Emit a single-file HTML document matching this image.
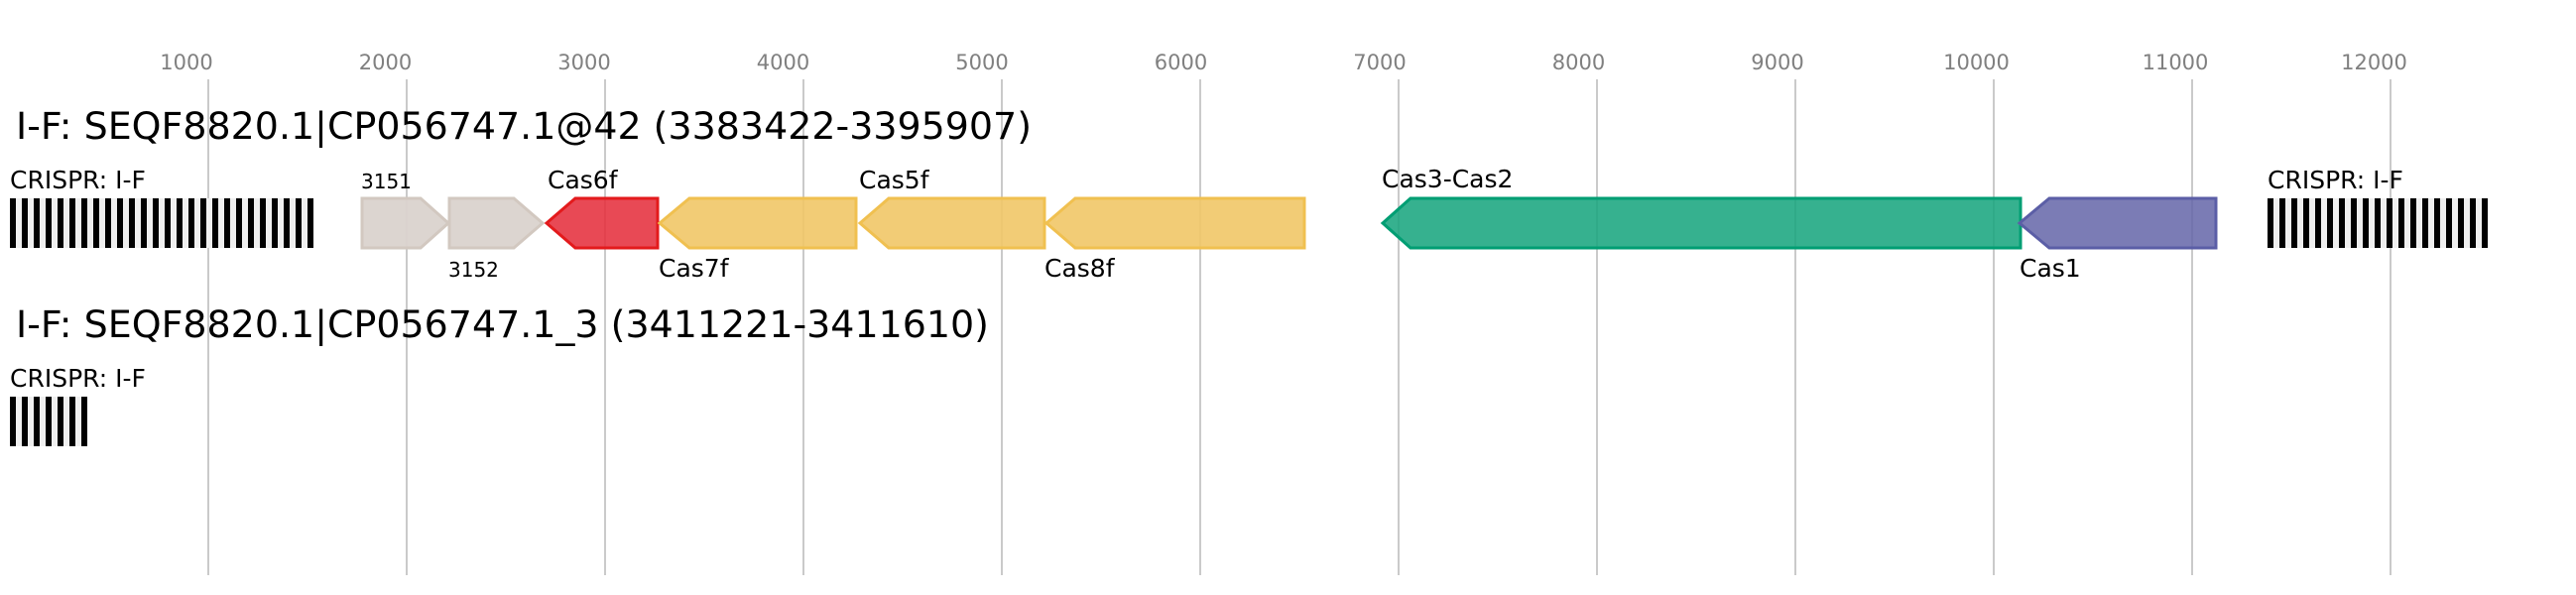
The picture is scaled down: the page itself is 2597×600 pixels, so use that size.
<!DOCTYPE html>
<html><head><meta charset="utf-8"><style>html,body{margin:0;padding:0;background:#fff}svg{display:block}</style></head>
<body>
<svg width="2597" height="600" viewBox="0 0 2597 600" xmlns="http://www.w3.org/2000/svg" font-family="'DejaVu Sans','Liberation Sans',sans-serif">
<g stroke="#bdbdbd" stroke-width="1.6">
<line x1="210" y1="80" x2="210" y2="580"/><line x1="410" y1="80" x2="410" y2="580"/><line x1="610" y1="80" x2="610" y2="580"/><line x1="810" y1="80" x2="810" y2="580"/><line x1="1010" y1="80" x2="1010" y2="580"/><line x1="1210" y1="80" x2="1210" y2="580"/><line x1="1410" y1="80" x2="1410" y2="580"/><line x1="1610" y1="80" x2="1610" y2="580"/><line x1="1810" y1="80" x2="1810" y2="580"/><line x1="2010" y1="80" x2="2010" y2="580"/><line x1="2210" y1="80" x2="2210" y2="580"/><line x1="2410" y1="80" x2="2410" y2="580"/>
</g>
<g fill="#808080" font-size="21" text-anchor="middle">
<text x="188" y="70">1000</text><text x="388.5" y="70">2000</text><text x="589" y="70">3000</text><text x="789.5" y="70">4000</text><text x="990" y="70">5000</text><text x="1190.5" y="70">6000</text><text x="1391" y="70">7000</text><text x="1591.5" y="70">8000</text><text x="1792" y="70">9000</text><text x="1992.5" y="70">10000</text><text x="2193" y="70">11000</text><text x="2393.5" y="70">12000</text>
</g>
<text x="16" y="140" font-size="37" textLength="1024" lengthAdjust="spacingAndGlyphs">I-F: SEQF8820.1|CP056747.1@42 (3383422-3395907)</text>
<text x="16" y="340" font-size="37" textLength="981" lengthAdjust="spacingAndGlyphs">I-F: SEQF8820.1|CP056747.1_3 (3411221-3411610)</text>
<g font-size="25">
<text x="10" y="190">CRISPR: I-F</text>
<text x="2286" y="190">CRISPR: I-F</text>
<text x="10" y="390">CRISPR: I-F</text>
<text x="552" y="190">Cas6f</text>
<text x="664" y="279">Cas7f</text>
<text x="866" y="190">Cas5f</text>
<text x="1053" y="279">Cas8f</text>
<text x="1393" y="189">Cas3-Cas2</text>
<text x="2036" y="279">Cas1</text>
</g>
<g font-size="20">
<text x="364" y="190">3151</text>
<text x="452" y="279">3152</text>
</g>
<rect x="10" y="200" width="306" height="50" fill="#efefef"/>
<g fill="#000">
<rect x="10" y="200" width="6" height="50"/><rect x="22" y="200" width="6" height="50"/><rect x="34" y="200" width="6" height="50"/><rect x="46" y="200" width="6" height="50"/><rect x="58" y="200" width="6" height="50"/><rect x="70" y="200" width="6" height="50"/><rect x="82" y="200" width="6" height="50"/><rect x="94" y="200" width="6" height="50"/><rect x="106" y="200" width="6" height="50"/><rect x="118" y="200" width="6" height="50"/><rect x="130" y="200" width="6" height="50"/><rect x="142" y="200" width="6" height="50"/><rect x="154" y="200" width="6" height="50"/><rect x="166" y="200" width="6" height="50"/><rect x="178" y="200" width="6" height="50"/><rect x="190" y="200" width="6" height="50"/><rect x="202" y="200" width="6" height="50"/><rect x="214" y="200" width="6" height="50"/><rect x="226" y="200" width="6" height="50"/><rect x="238" y="200" width="6" height="50"/><rect x="250" y="200" width="6" height="50"/><rect x="262" y="200" width="6" height="50"/><rect x="274" y="200" width="6" height="50"/><rect x="286" y="200" width="6" height="50"/><rect x="298" y="200" width="6" height="50"/><rect x="310" y="200" width="6" height="50"/>
</g>
<rect x="2286" y="200" width="222" height="50" fill="#efefef"/>
<g fill="#000">
<rect x="2286" y="200" width="6" height="50"/><rect x="2298" y="200" width="6" height="50"/><rect x="2310" y="200" width="6" height="50"/><rect x="2322" y="200" width="6" height="50"/><rect x="2334" y="200" width="6" height="50"/><rect x="2346" y="200" width="6" height="50"/><rect x="2358" y="200" width="6" height="50"/><rect x="2370" y="200" width="6" height="50"/><rect x="2382" y="200" width="6" height="50"/><rect x="2394" y="200" width="6" height="50"/><rect x="2406" y="200" width="6" height="50"/><rect x="2418" y="200" width="6" height="50"/><rect x="2430" y="200" width="6" height="50"/><rect x="2442" y="200" width="6" height="50"/><rect x="2454" y="200" width="6" height="50"/><rect x="2466" y="200" width="6" height="50"/><rect x="2478" y="200" width="6" height="50"/><rect x="2490" y="200" width="6" height="50"/><rect x="2502" y="200" width="6" height="50"/>
</g>
<rect x="10" y="400" width="78" height="50" fill="#efefef"/>
<g fill="#000">
<rect x="10" y="400" width="6" height="50"/><rect x="22" y="400" width="6" height="50"/><rect x="34" y="400" width="6" height="50"/><rect x="46" y="400" width="6" height="50"/><rect x="58" y="400" width="6" height="50"/><rect x="70" y="400" width="6" height="50"/><rect x="82" y="400" width="6" height="50"/>
</g>
<g stroke-width="3" stroke-linejoin="miter">
<polygon points="365,200 424,200 452,225 424,250 365,250" fill="#dad3cd" fill-opacity="0.95" stroke="#d2c8c0"/>
<polygon points="453,200 518,200 547,225 518,250 453,250" fill="#dad3cd" fill-opacity="0.95" stroke="#d2c8c0"/>
<polygon points="551,225 580,200 663,200 663,250 580,250" fill="#e5303d" fill-opacity="0.88" stroke="#e31a1c"/>
<polygon points="665,225 695,200 863,200 863,250 695,250" fill="#f1c767" fill-opacity="0.9" stroke="#f0c050"/>
<polygon points="867,225 896,200 1053,200 1053,250 896,250" fill="#f1c767" fill-opacity="0.9" stroke="#f0c050"/>
<polygon points="1055,225 1084,200 1315,200 1315,250 1084,250" fill="#f1c767" fill-opacity="0.9" stroke="#f0c050"/>
<polygon points="1394,225 1422,200 2037,200 2037,250 1422,250" fill="#1aa67f" fill-opacity="0.88" stroke="#009e73"/>
<polygon points="2036,225 2066,200 2234,200 2234,250 2066,250" fill="#6465a8" fill-opacity="0.85" stroke="#5b5ea6"/>
</g>
</svg>
</body></html>
